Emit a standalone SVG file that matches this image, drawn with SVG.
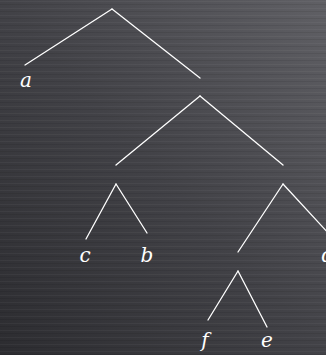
<svg xmlns="http://www.w3.org/2000/svg" width="326" height="355" viewBox="0 0 326 355">
<defs>
<linearGradient id="bg" x1="0" y1="1" x2="1" y2="0">
<stop offset="0" stop-color="#2c2c30"/>
<stop offset="0.5" stop-color="#424247"/>
<stop offset="1" stop-color="#606065"/>
</linearGradient>
<pattern id="streak" width="326" height="7" patternUnits="userSpaceOnUse">
<rect x="0" y="1" width="326" height="1" fill="#ffffff" opacity="0.04"/>
<rect x="0" y="4" width="326" height="1" fill="#000000" opacity="0.08"/>
</pattern>
<style>
.e{stroke:#ffffff;stroke-width:1.3;fill:none;stroke-linecap:round}
.l{font-family:"DejaVu Serif","Liberation Serif",serif;font-style:italic;font-size:20px;fill:#ffffff;text-anchor:middle}
</style>
</defs>
<rect width="326" height="355" fill="url(#bg)"/>
<rect width="326" height="355" fill="url(#streak)"/>
<g id="connectors">
<line class="e" x1="112" y1="9" x2="25" y2="65"/>
<line class="e" x1="112" y1="9" x2="200" y2="78"/>
<line class="e" x1="200" y1="96" x2="116" y2="165"/>
<line class="e" x1="200" y1="96" x2="283" y2="165"/>
<line class="e" x1="116" y1="184" x2="86" y2="239"/>
<line class="e" x1="116" y1="184" x2="147" y2="233"/>
<line class="e" x1="283" y1="184" x2="238" y2="252"/>
<line class="e" x1="283" y1="184" x2="330" y2="235"/>
<line class="e" x1="238" y1="271" x2="208" y2="320"/>
<line class="e" x1="238" y1="271" x2="267" y2="327"/>
</g>
<g id="node-a"><text class="l" x="26" y="87">a</text></g>
<g id="node-c"><text class="l" x="85" y="262">c</text></g>
<g id="node-b"><text class="l" x="147" y="262">b</text></g>
<g id="node-d"><text class="l" x="328" y="262">d</text></g>
<g id="node-f"><text class="l" x="205" y="347">f</text></g>
<g id="node-e"><text class="l" x="267" y="347">e</text></g>
</svg>
